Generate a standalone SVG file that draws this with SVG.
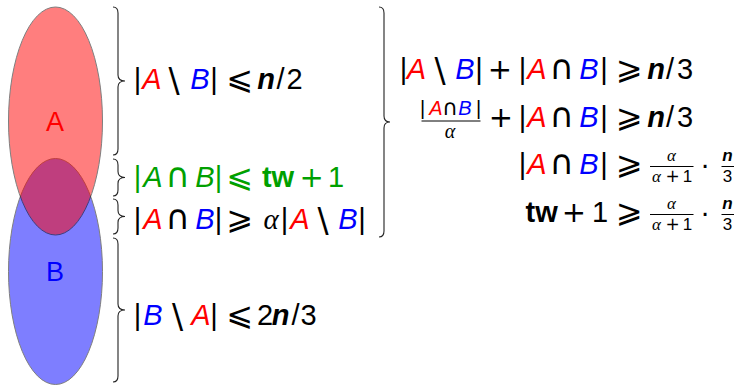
<svg xmlns="http://www.w3.org/2000/svg" width="737" height="386" viewBox="0 0 737 386">
<style>
text{font-family:"Liberation Sans",Arial,sans-serif;font-size:29px;text-anchor:middle;fill:#000}
.i{font-style:italic}
.bf{font-weight:bold}
.r{fill:#ff0000}
.b{fill:#0000ff}
.g{fill:#00a000}
.al{font-family:"Liberation Serif","Times New Roman",serif;font-style:italic}
.m{font-family:"DejaVu Sans",sans-serif;font-weight:normal}
.cap{font-family:"DejaVu Sans",sans-serif;font-size:34px}
.rel{font-family:"DejaVu Sans",sans-serif;font-size:32px}
.sl{font-family:"DejaVu Sans",sans-serif;font-size:33px}
.sm{font-size:20px}
.smcap{font-family:"DejaVu Sans",sans-serif;font-size:22px}
.xs{font-size:17px}
.lbl{font-size:27px}
.brace{fill:none;stroke:#222;stroke-width:1.1}
.bar{stroke:#000;stroke-width:1}
</style>
<g id="setB"><ellipse cx="55.5" cy="271.5" rx="47" ry="113" fill="#0000ff" stroke="#000" opacity="0.5"/><text class="lbl b" x="55" y="281">B</text></g>
<g id="setA"><ellipse cx="55.5" cy="121" rx="47" ry="114" fill="#ff0000" stroke="#000" opacity="0.5"/><text class="lbl r" x="55" y="131">A</text></g>
<g id="braces">
<path class="brace" d="M113,7 C117,7 118,9 118,13 L118,75 C118,79 120,81 125,81 C120,81 118,83 118,87 L118,149 C118,153 117,155 113,155"/>
<path class="brace" d="M113,159 C117,159 118,161 118,165 L118,171.5 C118,175.5 120,177.5 125,177.5 C120,177.5 118,179.5 118,183.5 L118,190 C118,194 117,196 113,196"/>
<path class="brace" d="M113,199 C117,199 118,201 118,205 L118,210.5 C118,214.5 120,216.5 125,216.5 C120,216.5 118,218.5 118,222.5 L118,228 C118,232 117,234 113,234"/>
<path class="brace" d="M113,238 C117,238 118,240 118,244 L118,304 C118,308 120,310 125,310 C120,310 118,312 118,316 L118,376 C118,380 117,382 113,382"/>
<path class="brace" d="M379,7 C383,7 384,9 384,13 L384,116 C384,120 386,122 390,122 C386,122 384,124 384,128 L384,231 C384,235 383,237 379,237"/>
</g>
<g id="eq-left">
<text y="89"><tspan x="137.5">|</tspan><tspan class="i r" x="152">A</tspan><tspan class="i b" x="200">B</tspan><tspan x="214">|</tspan><tspan class="rel" x="240">⩽</tspan><tspan class="i bf" x="266">n</tspan><tspan x="280.5">/</tspan><tspan x="294.5">2</tspan></text>
<text class="sl" x="174" y="92">\</text>
<text y="187" class="g"><tspan x="137.5">|</tspan><tspan class="i" x="153">A</tspan><tspan class="cap" x="178">∩</tspan><tspan class="i" x="205">B</tspan><tspan x="218.5">|</tspan><tspan class="rel g" x="240">⩽</tspan><tspan class="bf" x="278">tw</tspan><tspan class="m" x="311.7">+</tspan><tspan x="336">1</tspan></text>
<text y="229"><tspan x="137.5">|</tspan><tspan class="i r" x="153">A</tspan><tspan class="cap" x="178">∩</tspan><tspan class="i b" x="205">B</tspan><tspan x="218.5">|</tspan><tspan class="rel" x="240">⩾</tspan><tspan class="al" x="271">α</tspan><tspan x="284.5">|</tspan><tspan class="i r" x="300">A</tspan><tspan class="i b" x="348">B</tspan><tspan x="362">|</tspan></text>
<text class="sl" x="323" y="232">\</text>
<text y="325"><tspan x="137.5">|</tspan><tspan class="i b" x="153">B</tspan><tspan class="i r" x="201">A</tspan><tspan x="214">|</tspan><tspan class="rel" x="240">⩽</tspan><tspan x="265">2</tspan><tspan class="i bf" x="280.5">n</tspan><tspan x="295.5">/</tspan><tspan x="308.5">3</tspan></text>
<text class="sl" x="177.5" y="328">\</text>
</g>
<g id="eq-right">
<text y="78.5"><tspan x="403.5">|</tspan><tspan class="i r" x="416.5">A</tspan><tspan class="i b" x="465">B</tspan><tspan x="479">|</tspan><tspan class="m" x="500">+</tspan><tspan x="522.5">|</tspan><tspan class="i r" x="537">A</tspan><tspan class="cap" x="562">∩</tspan><tspan class="i b" x="589">B</tspan><tspan x="604">|</tspan><tspan class="rel" x="629.5">⩾</tspan><tspan class="i bf" x="656">n</tspan><tspan x="670">/</tspan><tspan x="685">3</tspan></text>
<text class="sl" x="440" y="81.5">\</text>
<text y="114.5" class="sm"><tspan x="422.5">|</tspan><tspan class="i r" x="436">A</tspan><tspan class="smcap" x="450">∩</tspan><tspan class="i b" x="465">B</tspan><tspan x="478.5">|</tspan></text>
<line class="bar" x1="421.5" y1="121" x2="480.5" y2="121"/>
<text y="137.5" class="sm al" x="450">α</text>
<text y="127"><tspan class="m" x="501">+</tspan><tspan x="522.5">|</tspan><tspan class="i r" x="537">A</tspan><tspan class="cap" x="562">∩</tspan><tspan class="i b" x="589">B</tspan><tspan x="604">|</tspan><tspan class="rel" x="629.5">⩾</tspan><tspan class="i bf" x="656">n</tspan><tspan x="670">/</tspan><tspan x="685">3</tspan></text>
<text y="173.5"><tspan x="522.5">|</tspan><tspan class="i r" x="537">A</tspan><tspan class="cap" x="562">∩</tspan><tspan class="i b" x="589">B</tspan><tspan x="604">|</tspan><tspan class="rel" x="629.5">⩾</tspan><tspan x="705">·</tspan></text>
<text y="161" class="xs"><tspan class="al" x="671.5">α</tspan><tspan class="i bf" x="727.5">n</tspan></text>
<line class="bar" x1="650" y1="166.5" x2="693.5" y2="166.5"/>
<line class="bar" x1="721.5" y1="166.5" x2="734" y2="166.5"/>
<text y="182" class="xs"><tspan class="al" x="656.5">α</tspan><tspan class="m" x="672.5">+</tspan><tspan x="687.5">1</tspan><tspan x="727.5">3</tspan></text>
<text y="221.5"><tspan class="bf" x="541.7">tw</tspan><tspan class="m" x="574">+</tspan><tspan x="600">1</tspan><tspan class="rel" x="629.5">⩾</tspan><tspan x="705">·</tspan></text>
<text y="209" class="xs"><tspan class="al" x="671.5">α</tspan><tspan class="i bf" x="727.5">n</tspan></text>
<line class="bar" x1="650" y1="214.5" x2="693.5" y2="214.5"/>
<line class="bar" x1="721.5" y1="214.5" x2="734" y2="214.5"/>
<text y="230" class="xs"><tspan class="al" x="656.5">α</tspan><tspan class="m" x="672.5">+</tspan><tspan x="687.5">1</tspan><tspan x="727.5">3</tspan></text>
</g>
</svg>
